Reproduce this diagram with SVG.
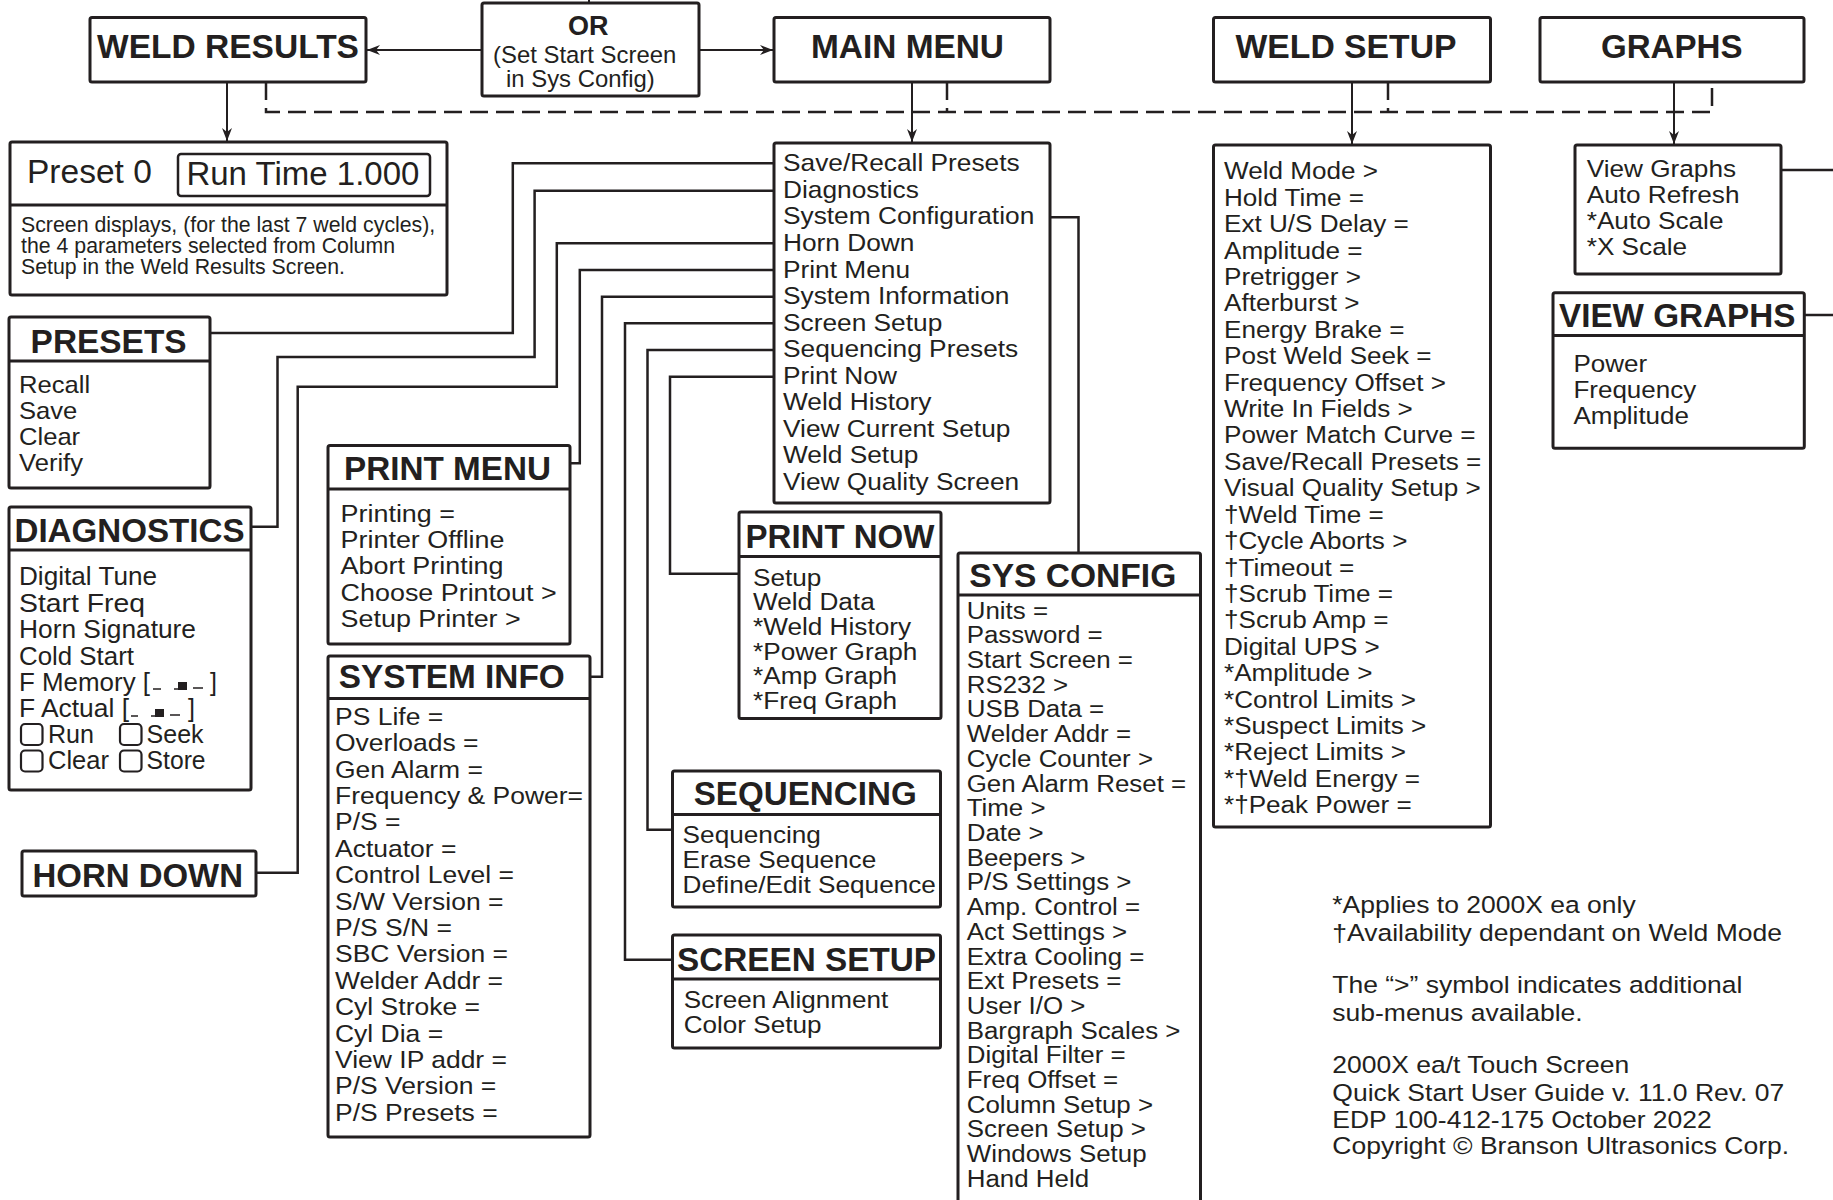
<svg xmlns="http://www.w3.org/2000/svg" width="1833" height="1200" viewBox="0 0 1833 1200">
<style>
.bx{fill:#fff;stroke:#231f20;stroke-width:3}
.dv{stroke:#231f20;stroke-width:3}
.ln{fill:none;stroke:#231f20;stroke-width:2.5}
.ds{fill:none;stroke:#231f20;stroke-width:2.5;stroke-dasharray:18 8}
.ar{fill:none;stroke:#231f20;stroke-width:2}
text{font-family:"Liberation Sans",Arial,Helvetica,sans-serif;fill:#231f20}
.tt{font-weight:bold;font-size:33px}
.cb{fill:#fff;stroke:#231f20;stroke-width:2.2}
.fl{fill:#231f20}
</style>
<defs>
<marker id="ah" markerWidth="13" markerHeight="10" refX="13" refY="5" orient="auto" markerUnits="userSpaceOnUse"><path d="M0,0 L13,5 L0,10 L4,5 Z" fill="#231f20"/></marker>
</defs>
<rect width="1833" height="1200" fill="#fff"/>

<g id="connectors">
<path class="ds" d="M266,82 V112 H1712 V82"/>
<path class="ds" d="M947,82 V112"/>
<path class="ds" d="M1388,82 V112"/>
<path class="ar" d="M482,50 H367" marker-end="url(#ah)"/>
<path class="ar" d="M699,50 H773" marker-end="url(#ah)"/>
<path class="ar" d="M589,0 V3"/>
<path class="ar" d="M227,82 V141" marker-end="url(#ah)"/>
<path class="ar" d="M912,82 V142" marker-end="url(#ah)"/>
<path class="ar" d="M1352,82 V144" marker-end="url(#ah)"/>
<path class="ar" d="M1674,82 V144" marker-end="url(#ah)"/>
<path class="ln" d="M774,163.3 H512.8 V333 H210"/>
<path class="ln" d="M774,190.7 H534.6 V357 H277.5 V526.7 H250.7"/>
<path class="ln" d="M1050,217.3 H1078.5 V553"/>
<path class="ln" d="M774,243.3 H556.8 V386.7 H297.7 V872.7 H256"/>
<path class="ln" d="M774,270 H579.8 V463.3 H570"/>
<path class="ln" d="M774,296.7 H602 V676.7 H590"/>
<path class="ln" d="M774,323.3 H625 V959.7 H672.5"/>
<path class="ln" d="M774,350 H647.5 V829.8 H672.5"/>
<path class="ln" d="M774,376.7 H670 V573.8 H739"/>
<path class="ln" d="M1781,170 H1833"/>
<path class="ln" d="M1804,315 H1833"/>
</g>

<g id="weld-results">
<rect class="bx" x="90" y="17.5" width="276" height="64.5" rx="2"/>
<text class="tt" x="97" y="58.3" textLength="262" lengthAdjust="spacingAndGlyphs">WELD RESULTS</text>
</g>

<g id="or-box">
<rect class="bx" x="482" y="3" width="217" height="93" rx="2"/>
<text x="568" y="35" font-size="27" font-weight="bold">OR</text>
<text x="493" y="63.3" font-size="23.9">(Set Start Screen</text>
<text x="506" y="87.3" font-size="23.9">in Sys Config)</text>
</g>

<g id="main-menu">
<rect class="bx" x="774" y="17.5" width="276" height="64.5" rx="2"/>
<text class="tt" x="811" y="58.3" textLength="193" lengthAdjust="spacingAndGlyphs">MAIN MENU</text>
</g>

<g id="weld-setup">
<rect class="bx" x="1213.5" y="17.5" width="277" height="64.5" rx="2"/>
<text class="tt" x="1235.5" y="58.3" textLength="221" lengthAdjust="spacingAndGlyphs">WELD SETUP</text>
</g>

<g id="graphs">
<rect class="bx" x="1540" y="17.5" width="264" height="64.5" rx="2"/>
<text class="tt" x="1601" y="58.3" textLength="141.5" lengthAdjust="spacingAndGlyphs">GRAPHS</text>
</g>

<g id="weld-results-screen">
<rect class="bx" x="10" y="142" width="437" height="153" rx="2"/>
<line class="dv" x1="10" y1="205" x2="447" y2="205"/>
<text x="27" y="183.3" font-size="33.5">Preset 0</text>
<rect class="bx" x="178" y="154" width="252" height="42" rx="3" style="stroke-width:2.5"/>
<text x="186.4" y="185" font-size="33">Run Time 1.000</text>
<text font-size="21.3"><tspan x="21" y="232">Screen displays, (for the last 7 weld cycles),</tspan><tspan x="21" y="253">the 4 parameters selected from Column</tspan><tspan x="21" y="274">Setup in the Weld Results Screen.</tspan></text>
</g>

<g id="presets">
<rect class="bx" x="9" y="317" width="201" height="171" rx="2"/>
<line class="dv" x1="9" y1="361" x2="210" y2="361"/>
<text class="tt" x="30.6" y="352.7" textLength="156" lengthAdjust="spacingAndGlyphs">PRESETS</text>
<text font-size="24" transform="translate(19,0) scale(1.067,1)"><tspan x="0" y="393">Recall</tspan><tspan x="0" y="419">Save</tspan><tspan x="0" y="445">Clear</tspan><tspan x="0" y="471">Verify</tspan></text>
</g>

<g id="diagnostics">
<rect class="bx" x="9" y="507" width="242" height="283" rx="2"/>
<line class="dv" x1="9" y1="550" x2="251" y2="550"/>
<text class="tt" x="14.5" y="542" textLength="230" lengthAdjust="spacingAndGlyphs">DIAGNOSTICS</text>
<text font-size="25"><tspan x="19" y="585" textLength="138" lengthAdjust="spacingAndGlyphs">Digital Tune</tspan><tspan x="19" y="611.5" textLength="126" lengthAdjust="spacingAndGlyphs">Start Freq</tspan><tspan x="19" y="638" textLength="177" lengthAdjust="spacingAndGlyphs">Horn Signature</tspan><tspan x="19" y="664.5" textLength="115" lengthAdjust="spacingAndGlyphs">Cold Start</tspan><tspan x="19" y="690.5" textLength="131" lengthAdjust="spacingAndGlyphs">F Memory [</tspan><tspan x="210" y="690.5">]</tspan><tspan x="19" y="717" textLength="110" lengthAdjust="spacingAndGlyphs">F Actual [</tspan><tspan x="188" y="717">]</tspan><tspan x="48" y="743" textLength="46" lengthAdjust="spacingAndGlyphs">Run</tspan><tspan x="146.6" y="743" textLength="57" lengthAdjust="spacingAndGlyphs">Seek</tspan><tspan x="48" y="768.5" textLength="61" lengthAdjust="spacingAndGlyphs">Clear</tspan><tspan x="146.6" y="768.5" textLength="59" lengthAdjust="spacingAndGlyphs">Store</tspan></text>
<path class="ln" d="M153,689 H161 M174,689 H178 M193,688 H203 M131,716 H138 M151,716 H155 M170,715 H180" style="stroke-width:1.5"/>
<rect class="fl" x="178" y="682" width="9" height="8"/>
<rect class="fl" x="155" y="709" width="9" height="8"/>
<rect class="cb" x="21" y="724" width="21.5" height="21" rx="4"/>
<rect class="cb" x="120" y="724" width="21.5" height="21" rx="4"/>
<rect class="cb" x="21" y="750.5" width="21.5" height="21" rx="4"/>
<rect class="cb" x="120" y="750.5" width="21.5" height="21" rx="4"/>
</g>

<g id="horn-down">
<rect class="bx" x="22" y="851" width="234" height="45" rx="2"/>
<text class="tt" x="32.5" y="886.7" textLength="210.5" lengthAdjust="spacingAndGlyphs">HORN DOWN</text>
</g>

<g id="print-menu">
<rect class="bx" x="328" y="445.5" width="242" height="198.5" rx="2"/>
<line class="dv" x1="328" y1="489" x2="570" y2="489"/>
<text class="tt" x="344" y="480" textLength="207" lengthAdjust="spacingAndGlyphs">PRINT MENU</text>
<text font-size="24.5" transform="translate(340.6,0) scale(1.098,1)"><tspan x="0" y="521.7">Printing =</tspan><tspan x="0" y="548">Printer Offline</tspan><tspan x="0" y="574.5">Abort Printing</tspan><tspan x="0" y="601">Choose Printout &gt;</tspan><tspan x="0" y="627">Setup Printer &gt;</tspan></text>
</g>

<g id="system-info">
<rect class="bx" x="328" y="656" width="262" height="481" rx="2"/>
<line class="dv" x1="328" y1="698.5" x2="590" y2="698.5"/>
<text class="tt" x="338.7" y="688.3" textLength="226" lengthAdjust="spacingAndGlyphs">SYSTEM INFO</text>
<text font-size="24" transform="translate(335,0) scale(1.104,1)"><tspan x="0" y="725">PS Life =</tspan><tspan x="0" y="751.4">Overloads =</tspan><tspan x="0" y="777.8">Gen Alarm =</tspan><tspan x="0" y="804.1">Frequency &amp; Power=</tspan><tspan x="0" y="830.5">P/S =</tspan><tspan x="0" y="856.9">Actuator =</tspan><tspan x="0" y="883.3">Control Level =</tspan><tspan x="0" y="909.7">S/W Version =</tspan><tspan x="0" y="936">P/S S/N =</tspan><tspan x="0" y="962.4">SBC Version =</tspan><tspan x="0" y="988.8">Welder Addr =</tspan><tspan x="0" y="1015.2">Cyl Stroke =</tspan><tspan x="0" y="1041.6">Cyl Dia =</tspan><tspan x="0" y="1067.9">View IP addr =</tspan><tspan x="0" y="1094.3">P/S Version =</tspan><tspan x="0" y="1120.7">P/S Presets =</tspan></text>
</g>

<g id="main-menu-list">
<rect class="bx" x="774" y="143" width="276" height="360" rx="2"/>
<text font-size="24" transform="translate(783,0) scale(1.096,1)"><tspan x="0" y="171.5">Save/Recall Presets</tspan><tspan x="0" y="198">Diagnostics</tspan><tspan x="0" y="224.5">System Configuration</tspan><tspan x="0" y="251.1">Horn Down</tspan><tspan x="0" y="277.6">Print Menu</tspan><tspan x="0" y="304.1">System Information</tspan><tspan x="0" y="330.6">Screen Setup</tspan><tspan x="0" y="357.1">Sequencing Presets</tspan><tspan x="0" y="383.7">Print Now</tspan><tspan x="0" y="410.2">Weld History</tspan><tspan x="0" y="436.7">View Current Setup</tspan><tspan x="0" y="463.2">Weld Setup</tspan><tspan x="0" y="489.7">View Quality Screen</tspan></text>
</g>

<g id="print-now">
<rect class="bx" x="739" y="512" width="202" height="206.5" rx="2"/>
<line class="dv" x1="739" y1="556.5" x2="941" y2="556.5"/>
<text class="tt" x="745.5" y="548" textLength="189" lengthAdjust="spacingAndGlyphs">PRINT NOW</text>
<text font-size="23.3" transform="translate(753,0) scale(1.124,1)"><tspan x="0" y="586">Setup</tspan><tspan x="0" y="610.5">Weld Data</tspan><tspan x="0" y="635">*Weld History</tspan><tspan x="0" y="659.7">*Power Graph</tspan><tspan x="0" y="684.4">*Amp Graph</tspan><tspan x="0" y="709">*Freq Graph</tspan></text>
</g>

<g id="sequencing">
<rect class="bx" x="672.5" y="771" width="268" height="136" rx="2"/>
<line class="dv" x1="672.5" y1="814.5" x2="940.5" y2="814.5"/>
<text class="tt" x="693.7" y="805" textLength="223" lengthAdjust="spacingAndGlyphs">SEQUENCING</text>
<text font-size="23.5" transform="translate(682.6,0) scale(1.115,1)"><tspan x="0" y="843.3">Sequencing</tspan><tspan x="0" y="868">Erase Sequence</tspan><tspan x="0" y="893.4">Define/Edit Sequence</tspan></text>
</g>

<g id="screen-setup">
<rect class="bx" x="672.5" y="935" width="268" height="113" rx="2"/>
<line class="dv" x1="672.5" y1="979" x2="940.5" y2="979"/>
<text class="tt" x="677" y="971" textLength="259" lengthAdjust="spacingAndGlyphs">SCREEN SETUP</text>
<text font-size="23.5" transform="translate(683.7,0) scale(1.111,1)"><tspan x="0" y="1007.6">Screen Alignment</tspan><tspan x="0" y="1033.5">Color Setup</tspan></text>
</g>

<g id="sys-config">
<rect class="bx" x="958" y="553" width="242.5" height="700" rx="2"/>
<line class="dv" x1="958" y1="595" x2="1200.5" y2="595"/>
<text class="tt" x="969.3" y="587" textLength="207" lengthAdjust="spacingAndGlyphs">SYS CONFIG</text>
<text font-size="23" transform="translate(966.7,0) scale(1.126,1)"><tspan x="0" y="618.6">Units =</tspan><tspan x="0" y="643.3">Password =</tspan><tspan x="0" y="668">Start Screen =</tspan><tspan x="0" y="692.7">RS232 &gt;</tspan><tspan x="0" y="717.4">USB Data =</tspan><tspan x="0" y="742.2">Welder Addr =</tspan><tspan x="0" y="766.9">Cycle Counter &gt;</tspan><tspan x="0" y="791.6">Gen Alarm Reset =</tspan><tspan x="0" y="816.3">Time &gt;</tspan><tspan x="0" y="841">Date &gt;</tspan><tspan x="0" y="865.7">Beepers &gt;</tspan><tspan x="0" y="890.4">P/S Settings &gt;</tspan><tspan x="0" y="915.1">Amp. Control =</tspan><tspan x="0" y="939.8">Act Settings &gt;</tspan><tspan x="0" y="964.5">Extra Cooling =</tspan><tspan x="0" y="989.3">Ext Presets =</tspan><tspan x="0" y="1014">User I/O &gt;</tspan><tspan x="0" y="1038.7">Bargraph Scales &gt;</tspan><tspan x="0" y="1063.4">Digital Filter =</tspan><tspan x="0" y="1088.1">Freq Offset =</tspan><tspan x="0" y="1112.8">Column Setup &gt;</tspan><tspan x="0" y="1137.5">Screen Setup &gt;</tspan><tspan x="0" y="1162.2">Windows Setup</tspan><tspan x="0" y="1186.9">Hand Held</tspan></text>
</g>

<g id="weld-setup-list">
<rect class="bx" x="1213.5" y="145" width="277" height="682" rx="2"/>
<text font-size="24.5" transform="translate(1224,0) scale(1.065,1)"><tspan x="0" y="179.3">Weld Mode &gt;</tspan><tspan x="0" y="205.7">Hold Time =</tspan><tspan x="0" y="232.1">Ext U/S Delay =</tspan><tspan x="0" y="258.6">Amplitude =</tspan><tspan x="0" y="285">Pretrigger &gt;</tspan><tspan x="0" y="311.4">Afterburst &gt;</tspan><tspan x="0" y="337.8">Energy Brake =</tspan><tspan x="0" y="364.2">Post Weld Seek =</tspan><tspan x="0" y="390.7">Frequency Offset &gt;</tspan><tspan x="0" y="417.1">Write In Fields &gt;</tspan><tspan x="0" y="443.5">Power Match Curve =</tspan><tspan x="0" y="469.9">Save/Recall Presets =</tspan><tspan x="0" y="496.3">Visual Quality Setup &gt;</tspan><tspan x="0" y="522.8">†Weld Time =</tspan><tspan x="0" y="549.2">†Cycle Aborts &gt;</tspan><tspan x="0" y="575.6">†Timeout =</tspan><tspan x="0" y="602">†Scrub Time =</tspan><tspan x="0" y="628.4">†Scrub Amp =</tspan><tspan x="0" y="654.9">Digital UPS &gt;</tspan><tspan x="0" y="681.3">*Amplitude &gt;</tspan><tspan x="0" y="707.7">*Control Limits &gt;</tspan><tspan x="0" y="734.1">*Suspect Limits &gt;</tspan><tspan x="0" y="760.5">*Reject Limits &gt;</tspan><tspan x="0" y="787">*†Weld Energy =</tspan><tspan x="0" y="813.4">*†Peak Power =</tspan></text>
</g>

<g id="graphs-list">
<rect class="bx" x="1575" y="145" width="206" height="129" rx="2"/>
<text font-size="24.5" transform="translate(1586.7,0) scale(1.069,1)"><tspan x="0" y="176.7">View Graphs</tspan><tspan x="0" y="203.3">Auto Refresh</tspan><tspan x="0" y="229.3">*Auto Scale</tspan><tspan x="0" y="255">*X Scale</tspan></text>
</g>

<g id="view-graphs">
<rect class="bx" x="1553" y="292.7" width="251.3" height="155.6" rx="2"/>
<line class="dv" x1="1553" y1="335.5" x2="1804.3" y2="335.5"/>
<text class="tt" x="1559" y="326.7" textLength="236.5" lengthAdjust="spacingAndGlyphs">VIEW GRAPHS</text>
<text font-size="24.5" transform="translate(1573.4,0) scale(1.061,1)"><tspan x="0" y="371.7">Power</tspan><tspan x="0" y="398.3">Frequency</tspan><tspan x="0" y="424">Amplitude</tspan></text>
</g>

<g id="notes">
<text font-size="23.5" transform="translate(1332.3,0) scale(1.128,1)"><tspan x="0" y="913.3">*Applies to 2000X ea only</tspan><tspan x="0" y="940.7">†Availability dependant on Weld Mode</tspan><tspan x="0" y="993.3">The “&gt;” symbol indicates additional</tspan><tspan x="0" y="1020.7">sub-menus available.</tspan><tspan x="0" y="1073.3">2000X ea/t Touch Screen</tspan><tspan x="0" y="1100.7">Quick Start User Guide v. 11.0 Rev. 07</tspan><tspan x="0" y="1127.7">EDP 100-412-175 October 2022</tspan><tspan x="0" y="1154">Copyright © Branson Ultrasonics Corp.</tspan></text>
</g>
</svg>
